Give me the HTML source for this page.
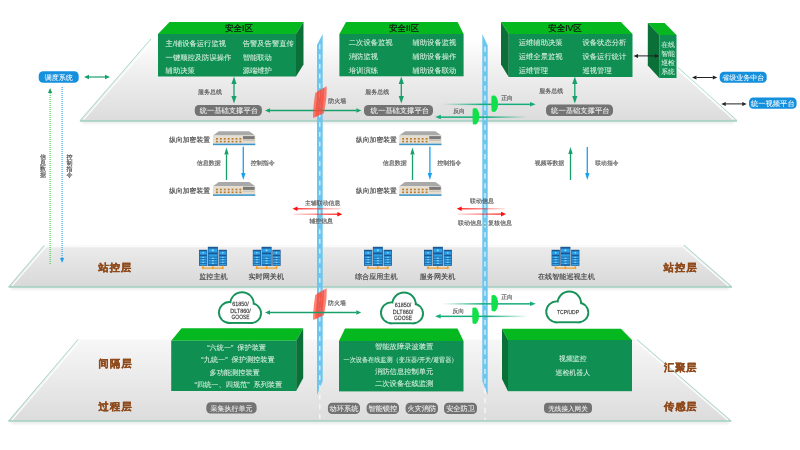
<!DOCTYPE html><html><head><meta charset="utf-8"><style>html,body{margin:0;padding:0;background:#fff;width:800px;height:450px;overflow:hidden}svg{display:block;will-change:transform}text{font-family:"Liberation Sans",sans-serif;text-rendering:geometricPrecision}</style></head><body>
<svg width="800" height="450" viewBox="0 0 800 450">
<defs>
<linearGradient id="pt" x1="0" y1="0" x2="0" y2="1"><stop offset="0" stop-color="#ffffff"/><stop offset="0.35" stop-color="#f1f1f1"/><stop offset="1" stop-color="#dcdcdc"/></linearGradient>
<linearGradient id="ps" x1="0" y1="0" x2="0" y2="1"><stop offset="0" stop-color="#ececec"/><stop offset="1" stop-color="#d8d8d8"/></linearGradient>
<linearGradient id="pb" x1="0" y1="0" x2="0" y2="1"><stop offset="0" stop-color="#f7f7f7"/><stop offset="1" stop-color="#dcdcdc"/></linearGradient>
<linearGradient id="fwd" x1="0" y1="0" x2="1" y2="0"><stop offset="0" stop-color="#16ad7c" stop-opacity="0"/><stop offset="0.45" stop-color="#16ad7c" stop-opacity="1"/><stop offset="1" stop-color="#16ad7c"/></linearGradient>
<linearGradient id="rev" x1="0" y1="0" x2="1" y2="0"><stop offset="0" stop-color="#16ad7c"/><stop offset="0.55" stop-color="#16ad7c" stop-opacity="1"/><stop offset="1" stop-color="#16ad7c" stop-opacity="0"/></linearGradient>
<linearGradient id="redl" x1="0" y1="0" x2="1" y2="0"><stop offset="0" stop-color="#ff1010"/><stop offset="1" stop-color="#ff1010" stop-opacity="0.15"/></linearGradient>
<linearGradient id="redr" x1="0" y1="0" x2="1" y2="0"><stop offset="0" stop-color="#ff1010" stop-opacity="0.15"/><stop offset="1" stop-color="#ff1010"/></linearGradient>
<linearGradient id="tw" x1="0" y1="0" x2="0" y2="1"><stop offset="0" stop-color="#1d5fa0"/><stop offset="0.5" stop-color="#2f8fd6"/><stop offset="1" stop-color="#1f6fb5"/></linearGradient>
<filter id="blur1" x="-20%" y="-100%" width="140%" height="300%"><feGaussianBlur stdDeviation="0.8"/></filter>
<symbol id="srv" viewBox="0 0 29 23" overflow="visible">
 <rect x="0.3" y="3.3" width="8.2" height="16" fill="#1c4f86"/>
 <rect x="19.9" y="3.3" width="8.2" height="16" fill="#1c4f86"/>
 <rect x="9.1" y="0.3" width="10" height="19.2" fill="#1c4f86"/>
 <g fill="#2aa2ea">
  <rect x="0.9" y="4.2" width="7" height="14.5"/><rect x="20.5" y="4.2" width="7" height="14.5"/><rect x="9.7" y="1.3" width="8.8" height="17.6"/>
 </g>
 <g fill="#1d5690">
  <rect x="0.9" y="3.6" width="7" height="1.2"/><rect x="20.5" y="3.6" width="7" height="1.2"/><rect x="9.7" y="0.8" width="8.8" height="1.3"/>
  <rect x="0.9" y="8.2" width="7" height="1.6"/><rect x="20.5" y="8.2" width="7" height="1.6"/><rect x="9.7" y="6" width="8.8" height="1.8"/>
  <rect x="0.9" y="11.6" width="7" height="0.7"/><rect x="0.9" y="14.1" width="7" height="0.7"/><rect x="0.9" y="16.6" width="7" height="0.7"/>
  <rect x="20.5" y="11.6" width="7" height="0.7"/><rect x="20.5" y="14.1" width="7" height="0.7"/><rect x="20.5" y="16.6" width="7" height="0.7"/>
  <rect x="9.7" y="10.2" width="8.8" height="0.7"/><rect x="9.7" y="12.7" width="8.8" height="0.7"/><rect x="9.7" y="15.2" width="8.8" height="0.7"/><rect x="9.7" y="17.6" width="8.8" height="0.7"/>
 </g>
 <g fill="#9fe0ff"><circle cx="4.4" cy="6.3" r="0.8"/><circle cx="24" cy="6.3" r="0.8"/><circle cx="14.1" cy="3.7" r="0.9"/></g>
 <g fill="#c9eeff" opacity="0.8">
  <rect x="3.5" y="10.4" width="1.8" height="0.8"/><rect x="3.5" y="12.9" width="1.8" height="0.8"/><rect x="3.5" y="15.4" width="1.8" height="0.8"/>
  <rect x="23.1" y="10.4" width="1.8" height="0.8"/><rect x="23.1" y="12.9" width="1.8" height="0.8"/><rect x="23.1" y="15.4" width="1.8" height="0.8"/>
  <rect x="13.2" y="11.3" width="1.9" height="0.9"/><rect x="13.2" y="13.8" width="1.9" height="0.9"/><rect x="13.2" y="16.3" width="1.9" height="0.9"/>
 </g>
 <g stroke="#eea030" stroke-width="1.2" fill="none"><path d="M3.6 21.6H24.6M4.2 19.1V21.6M14.1 19.5V21.6M24 19.1V21.6"/></g>
 <g fill="#eea030"><circle cx="4.2" cy="21.6" r="1.1"/><circle cx="14.1" cy="21.6" r="1.1"/><circle cx="24" cy="21.6" r="1.1"/></g>
</symbol>
<symbol id="dev" viewBox="0 0 43 15" overflow="visible">
 <polygon points="5.8,0.2 36.2,0.2 42.3,4.5 0,4.5" fill="#a9a9a9"/>
 <rect x="0" y="4.5" width="42.3" height="8.1" fill="#e4ddd0"/>
 <g fill="#b8792a">
  <rect x="3" y="7" width="1.9" height="1.6"/><rect x="6.9" y="7" width="1.9" height="1.6"/><rect x="10.8" y="7" width="1.9" height="1.6"/><rect x="14.7" y="7" width="1.9" height="1.6"/><rect x="18.6" y="7" width="1.9" height="1.6"/><rect x="22.5" y="7" width="1.9" height="1.6"/><rect x="26.4" y="7" width="1.9" height="1.6"/>
  <rect x="3" y="9.8" width="1.9" height="1.6"/><rect x="6.9" y="9.8" width="1.9" height="1.6"/><rect x="10.8" y="9.8" width="1.9" height="1.6"/><rect x="14.7" y="9.8" width="1.9" height="1.6"/><rect x="18.6" y="9.8" width="1.9" height="1.6"/><rect x="22.5" y="9.8" width="1.9" height="1.6"/><rect x="26.4" y="9.8" width="1.9" height="1.6"/>
 </g>
 <rect x="30" y="5.1" width="11.6" height="3.1" fill="#7a7a7a"/>
 <rect x="30" y="9" width="11.6" height="1" fill="#c9c2b4"/>
 <rect x="0" y="12.6" width="42.3" height="1.6" fill="#3f95c6"/>
</symbol>
<symbol id="cloud" viewBox="0 0 44 32" overflow="visible">
 <g fill="none" stroke="#17935a" stroke-width="3.8"><circle cx="24" cy="12" r="10.8"/><circle cx="11.4" cy="20.5" r="9.5"/><circle cx="33.3" cy="21.2" r="8.8"/><rect x="11.4" y="15" width="21.9" height="15"/></g>
 <g fill="#fff"><circle cx="24" cy="12" r="10.8"/><circle cx="11.4" cy="20.5" r="9.5"/><circle cx="33.3" cy="21.2" r="8.8"/><rect x="11.4" y="15" width="21.9" height="15"/></g>
</symbol>
<symbol id="fw" viewBox="0 0 13 32" overflow="visible">
 <g fill="#ff4a38" opacity="1"><g opacity="0.7"><path d="M2.20,6.38 L5.80,4.28 C6.40,12 4.40,22 3.80,29.90 L0.20,31.51 C-0.20,22 1.60,12 2.20,6.38Z"/></g><g opacity="0.7"><path d="M4.80,4.86 L8.40,2.76 C9.00,12 6.80,22 6.20,28.82 L2.60,30.44 C2.20,22 4.20,12 4.80,4.86Z"/></g><g opacity="0.7"><path d="M7.40,3.34 L11.00,1.24 C11.60,12 9.20,22 8.60,27.75 L5.00,29.36 C4.60,22 6.80,12 7.40,3.34Z"/></g><g opacity="0.7"><path d="M10.00,1.82 L13.60,-0.29 C14.20,12 11.60,22 11.00,26.67 L7.40,28.28 C7.00,22 9.40,12 10.00,1.82Z"/></g></g>
</symbol>
<symbol id="blob" viewBox="0 0 7 17" overflow="visible">
 <path d="M0.4,0.6 L3.6,0.2 C5.9,2 6.9,5 6.9,8.5 C6.9,12 5.9,15 3.6,16.8 L0.5,16.4 C0,11 0,6 0.4,0.6Z" fill="#12e04a"/>
</symbol>
</defs>
<rect x="82" y="120.5" width="652" height="3.2" fill="#000" opacity="0.07" filter="url(#blur1)"/>
<rect x="11" y="286.8" width="718" height="3.2" fill="#000" opacity="0.07" filter="url(#blur1)"/>
<rect x="11" y="421" width="718" height="3.2" fill="#000" opacity="0.07" filter="url(#blur1)"/>
<polygon points="151.00,39.00 641.00,39.00 737.00,121.00 80.00,121.00" fill="url(#pt)" />
<path d="M151,39 L80,120.5 M737,120.5 L678,67.5" fill="none" stroke="#9fd6c4" stroke-width="0.9"/>
<path d="M80,121 L737,121" fill="none" stroke="#9fcfc0" stroke-width="1.6"/>
<polygon points="44.00,245.50 684.00,245.00 732.00,287.00 8.60,287.00" fill="url(#ps)" />
<path d="M44,245.5 L8.6,286.8 M732,286.8 L684,245" fill="none" stroke="#9fd6c4" stroke-width="0.9"/>
<path d="M8.6,287 L732,287" fill="none" stroke="#9fcfc0" stroke-width="1.6"/>
<polygon points="78.00,339.50 637.00,339.50 731.20,420.80 8.50,420.80" fill="url(#pb)" />
<path d="M78,339.5 L8.5,421 M731.2,421 L637,339.5" fill="none" stroke="#9fd6c4" stroke-width="0.9"/>
<path d="M8.5,421 L731.2,421" fill="none" stroke="#9fcfc0" stroke-width="1.5"/>
<path d="M45,246.3 L683,246.3" stroke="#fff" stroke-width="2" opacity="0.8"/>
<g stroke="#fff" stroke-width="1.3" opacity="0.9" fill="none"><path d="M152.6,40.8 L83.5,119.6"/><path d="M677.5,69.5 L733.5,119.6"/><path d="M45.8,246.8 L12,285.9"/><path d="M683,246.8 L728.5,285.9"/><path d="M79.6,341 L12,420.1"/><path d="M635.8,341 L727.8,420.1"/></g>
<polygon points="322.70,34.00 322.70,381.00 317.00,395.00 317.00,45.00" fill="#6cc6ee" />
<line x1="319.85" y1="44.4" x2="319.85" y2="420" stroke="#fff" stroke-width="1" stroke-dasharray="4.8,4.93"/>
<polygon points="482.30,34.00 487.70,45.50 487.70,395.00 482.30,381.00" fill="#6cc6ee" />
<line x1="485.00" y1="46.7" x2="485.00" y2="420" stroke="#fff" stroke-width="1" stroke-dasharray="5.2,4.56"/>
<polygon points="169.50,22.00 303.50,22.00 296.00,34.00 158.00,34.00" fill="#06b820" />
<rect x="158" y="34" width="138" height="42.5" fill="#0f8f52"/>
<polygon points="296.00,34.00 303.50,22.00 303.50,64.50 296.00,76.50" fill="#0a7038" />
<text x="239.00" y="31.23" font-size="8.5" fill="#111" text-anchor="middle" font-weight="normal" stroke="#111" stroke-width="0.2">安全I区</text>
<text x="165.60" y="45.77" font-size="7.3" fill="#dcf2e4" text-anchor="start" font-weight="normal"  stroke="#dcf2e4" stroke-width="0.15" stroke-opacity="0.4">主/辅设备运行监视</text>
<text x="165.60" y="59.77" font-size="7.3" fill="#dcf2e4" text-anchor="start" font-weight="normal"  stroke="#dcf2e4" stroke-width="0.15" stroke-opacity="0.4">一键顺控及防误操作</text>
<text x="165.60" y="72.77" font-size="7.3" fill="#dcf2e4" text-anchor="start" font-weight="normal"  stroke="#dcf2e4" stroke-width="0.15" stroke-opacity="0.4">辅助决策</text>
<text x="242.70" y="45.77" font-size="7.3" fill="#dcf2e4" text-anchor="start" font-weight="normal"  stroke="#dcf2e4" stroke-width="0.15" stroke-opacity="0.4">告警及告警直传</text>
<text x="242.70" y="59.77" font-size="7.3" fill="#dcf2e4" text-anchor="start" font-weight="normal"  stroke="#dcf2e4" stroke-width="0.15" stroke-opacity="0.4">智能联动</text>
<text x="242.70" y="72.77" font-size="7.3" fill="#dcf2e4" text-anchor="start" font-weight="normal"  stroke="#dcf2e4" stroke-width="0.15" stroke-opacity="0.4">源端维护</text>
<polygon points="346.00,22.00 457.60,22.00 463.60,34.00 339.40,34.00" fill="#06b820" />
<rect x="339.4" y="34" width="124.2" height="42.3" fill="#0f8f52"/>
<text x="404.00" y="31.23" font-size="8.5" fill="#111" text-anchor="middle" font-weight="normal" stroke="#111" stroke-width="0.2">安全II区</text>
<text x="348.80" y="44.97" font-size="7.3" fill="#dcf2e4" text-anchor="start" font-weight="normal"  stroke="#dcf2e4" stroke-width="0.15" stroke-opacity="0.4">二次设备监视</text>
<text x="348.80" y="59.07" font-size="7.3" fill="#dcf2e4" text-anchor="start" font-weight="normal"  stroke="#dcf2e4" stroke-width="0.15" stroke-opacity="0.4">消防监视</text>
<text x="348.80" y="73.07" font-size="7.3" fill="#dcf2e4" text-anchor="start" font-weight="normal"  stroke="#dcf2e4" stroke-width="0.15" stroke-opacity="0.4">培训演练</text>
<text x="412.50" y="44.97" font-size="7.3" fill="#dcf2e4" text-anchor="start" font-weight="normal"  stroke="#dcf2e4" stroke-width="0.15" stroke-opacity="0.4">辅助设备监视</text>
<text x="412.50" y="59.07" font-size="7.3" fill="#dcf2e4" text-anchor="start" font-weight="normal"  stroke="#dcf2e4" stroke-width="0.15" stroke-opacity="0.4">辅助设备操作</text>
<text x="412.50" y="73.07" font-size="7.3" fill="#dcf2e4" text-anchor="start" font-weight="normal"  stroke="#dcf2e4" stroke-width="0.15" stroke-opacity="0.4">辅助设备联动</text>
<polygon points="501.00,22.00 621.00,22.00 632.50,34.00 508.75,34.00" fill="#06b820" />
<rect x="508.75" y="34" width="123.75" height="43" fill="#0f8f52"/>
<polygon points="501.00,22.00 508.75,34.00 508.75,77.00 501.00,64.50" fill="#0a7038" />
<text x="565.00" y="31.23" font-size="8.5" fill="#111" text-anchor="middle" font-weight="normal" stroke="#111" stroke-width="0.2">安全IV区</text>
<text x="518.75" y="44.77" font-size="7.3" fill="#dcf2e4" text-anchor="start" font-weight="normal"  stroke="#dcf2e4" stroke-width="0.15" stroke-opacity="0.4">运维辅助决策</text>
<text x="518.75" y="59.02" font-size="7.3" fill="#dcf2e4" text-anchor="start" font-weight="normal"  stroke="#dcf2e4" stroke-width="0.15" stroke-opacity="0.4">运维全景监视</text>
<text x="518.75" y="72.77" font-size="7.3" fill="#dcf2e4" text-anchor="start" font-weight="normal"  stroke="#dcf2e4" stroke-width="0.15" stroke-opacity="0.4">运维管理</text>
<text x="582.50" y="44.77" font-size="7.3" fill="#dcf2e4" text-anchor="start" font-weight="normal"  stroke="#dcf2e4" stroke-width="0.15" stroke-opacity="0.4">设备状态分析</text>
<text x="582.50" y="59.02" font-size="7.3" fill="#dcf2e4" text-anchor="start" font-weight="normal"  stroke="#dcf2e4" stroke-width="0.15" stroke-opacity="0.4">设备运行统计</text>
<text x="582.50" y="72.77" font-size="7.3" fill="#dcf2e4" text-anchor="start" font-weight="normal"  stroke="#dcf2e4" stroke-width="0.15" stroke-opacity="0.4">巡视管理</text>
<polygon points="647.80,23.00 664.60,23.00 676.50,35.00 659.30,35.00" fill="#06b820" />
<rect x="659.3" y="35" width="17.2" height="43" fill="#0f8f52"/>
<polygon points="647.80,23.00 659.30,35.00 659.30,78.00 647.80,65.60" fill="#0a7038" />
<text x="668.00" y="46.58" font-size="6.8" fill="#dcf2e4" text-anchor="middle" font-weight="normal"  stroke="#dcf2e4" stroke-width="0.15" stroke-opacity="0.4">在线</text>
<text x="668.00" y="55.78" font-size="6.8" fill="#dcf2e4" text-anchor="middle" font-weight="normal"  stroke="#dcf2e4" stroke-width="0.15" stroke-opacity="0.4">智能</text>
<text x="668.00" y="64.98" font-size="6.8" fill="#dcf2e4" text-anchor="middle" font-weight="normal"  stroke="#dcf2e4" stroke-width="0.15" stroke-opacity="0.4">巡检</text>
<text x="668.00" y="73.88" font-size="6.8" fill="#dcf2e4" text-anchor="middle" font-weight="normal"  stroke="#dcf2e4" stroke-width="0.15" stroke-opacity="0.4">系统</text>
<text x="198.00" y="94.18" font-size="6" fill="#555" text-anchor="start" font-weight="normal"  stroke="#555" stroke-width="0.25" stroke-opacity="0.6">服务总线</text>
<text x="365.30" y="93.58" font-size="6" fill="#555" text-anchor="start" font-weight="normal"  stroke="#555" stroke-width="0.25" stroke-opacity="0.6">服务总线</text>
<text x="539.20" y="93.48" font-size="6" fill="#555" text-anchor="start" font-weight="normal"  stroke="#555" stroke-width="0.25" stroke-opacity="0.6">服务总线</text>
<line x1="234.00" y1="84.00" x2="234.00" y2="96.00" stroke="#17a06a" stroke-width="1.3"/>
<polygon points="234.00,76.50 231.40,84.00 236.60,84.00" fill="#17a06a" />
<polygon points="234.00,103.50 231.40,96.00 236.60,96.00" fill="#17a06a" />
<line x1="401.30" y1="84.00" x2="401.30" y2="96.00" stroke="#17a06a" stroke-width="1.3"/>
<polygon points="401.30,76.50 398.70,84.00 403.90,84.00" fill="#17a06a" />
<polygon points="401.30,103.50 398.70,96.00 403.90,96.00" fill="#17a06a" />
<line x1="574.80" y1="84.00" x2="574.80" y2="96.00" stroke="#17a06a" stroke-width="1.3"/>
<polygon points="574.80,76.50 572.20,84.00 577.40,84.00" fill="#17a06a" />
<polygon points="574.80,103.50 572.20,96.00 577.40,96.00" fill="#17a06a" />
<rect x="194.75" y="105" width="67.15" height="11.00" rx="4.23" fill="#737373"/>
<text x="228.82" y="113.27" font-size="7.3" fill="#f4f4f4" text-anchor="middle" font-weight="normal"  stroke="#f4f4f4" stroke-width="0.15" stroke-opacity="0.4">统一基础支撑平台</text>
<rect x="364" y="105" width="69.00" height="11.00" rx="4.23" fill="#737373"/>
<text x="399.80" y="113.27" font-size="7.3" fill="#f4f4f4" text-anchor="middle" font-weight="normal"  stroke="#f4f4f4" stroke-width="0.15" stroke-opacity="0.4">统一基础支撑平台</text>
<rect x="546" y="104.5" width="67.00" height="11.50" rx="4.42" fill="#737373"/>
<text x="580.30" y="113.02" font-size="7.3" fill="#f4f4f4" text-anchor="middle" font-weight="normal"  stroke="#f4f4f4" stroke-width="0.15" stroke-opacity="0.4">统一基础支撑平台</text>
<line x1="270.00" y1="110.50" x2="356.30" y2="110.50" stroke="#17a06a" stroke-width="1.3"/>
<polygon points="265.00,110.50 270.00,108.30 270.00,112.70" fill="#17a06a" />
<polygon points="361.30,110.50 356.30,108.30 356.30,112.70" fill="#17a06a" />
<use href="#fw" x="313" y="86.5" width="13" height="32"/>
<text x="328.30" y="102.88" font-size="6" fill="#555" text-anchor="start" font-weight="normal"  stroke="#555" stroke-width="0.25" stroke-opacity="0.6">防火墙</text>
<rect x="442" y="103.6" width="89" height="1.5" fill="url(#fwd)"/>
<polygon points="535.70,104.20 530.00,101.90 530.00,106.50" fill="#16ad7c" />
<rect x="440" y="116.4" width="88" height="1.5" fill="url(#rev)"/>
<polygon points="435.20,117.00 440.90,114.70 440.90,119.30" fill="#16ad7c" />
<use href="#blob" x="491.2" y="95.2" width="7" height="17"/>
<use href="#blob" x="472.4" y="107.8" width="7" height="17"/>
<text x="501.20" y="99.90" font-size="5.8" fill="#555" text-anchor="start" font-weight="normal"  stroke="#555" stroke-width="0.25" stroke-opacity="0.6">正向</text>
<text x="453.20" y="113.40" font-size="5.8" fill="#555" text-anchor="start" font-weight="normal"  stroke="#555" stroke-width="0.25" stroke-opacity="0.6">反向</text>
<rect x="38.7" y="71.3" width="40.00" height="11.50" rx="4.42" fill="#1590dd"/>
<text x="58.70" y="79.71" font-size="7" fill="#fff" text-anchor="middle" font-weight="normal"  stroke="#fff" stroke-width="0.15" stroke-opacity="0.4">调度系统</text>
<line x1="89.00" y1="77.00" x2="105.00" y2="77.00" stroke="#17a06a" stroke-width="1.2"/>
<polygon points="84.00,77.00 89.00,74.80 89.00,79.20" fill="#17a06a" />
<polygon points="110.00,77.00 105.00,74.80 105.00,79.20" fill="#17a06a" />
<line x1="50.1" y1="93" x2="50.1" y2="264" stroke="#2fbf3f" stroke-width="1" stroke-dasharray="1,1"/>
<polygon points="50.10,88.00 48.00,93.00 52.20,93.00" fill="#17a06a" />
<line x1="62.1" y1="87" x2="62.1" y2="258" stroke="#2a9ee8" stroke-width="1.1" stroke-dasharray="1,1"/>
<polygon points="62.10,263.00 60.00,258.00 64.20,258.00" fill="#2a9ee8" />
<text x="43.10" y="159.08" font-size="6" fill="#444" text-anchor="middle" font-weight="normal"  stroke="#444" stroke-width="0.25" stroke-opacity="0.6">信</text>
<text x="43.10" y="165.08" font-size="6" fill="#444" text-anchor="middle" font-weight="normal"  stroke="#444" stroke-width="0.25" stroke-opacity="0.6">息</text>
<text x="43.10" y="171.08" font-size="6" fill="#444" text-anchor="middle" font-weight="normal"  stroke="#444" stroke-width="0.25" stroke-opacity="0.6">数</text>
<text x="43.10" y="177.08" font-size="6" fill="#444" text-anchor="middle" font-weight="normal"  stroke="#444" stroke-width="0.25" stroke-opacity="0.6">据</text>
<text x="69.50" y="159.08" font-size="6" fill="#444" text-anchor="middle" font-weight="normal"  stroke="#444" stroke-width="0.25" stroke-opacity="0.6">控</text>
<text x="69.50" y="165.08" font-size="6" fill="#444" text-anchor="middle" font-weight="normal"  stroke="#444" stroke-width="0.25" stroke-opacity="0.6">制</text>
<text x="69.50" y="171.08" font-size="6" fill="#444" text-anchor="middle" font-weight="normal"  stroke="#444" stroke-width="0.25" stroke-opacity="0.6">指</text>
<text x="69.50" y="177.08" font-size="6" fill="#444" text-anchor="middle" font-weight="normal"  stroke="#444" stroke-width="0.25" stroke-opacity="0.6">令</text>
<rect x="719.7" y="71.8" width="47.00" height="11.00" rx="4.23" fill="#1590dd"/>
<text x="743.20" y="79.96" font-size="7" fill="#fff" text-anchor="middle" font-weight="normal"  stroke="#fff" stroke-width="0.15" stroke-opacity="0.4">省级业务中台</text>
<line x1="696.50" y1="77.50" x2="712.80" y2="77.50" stroke="#222" stroke-width="1"/>
<polygon points="692.00,77.50 696.50,75.50 696.50,79.50" fill="#222" />
<polygon points="717.30,77.50 712.80,75.50 712.80,79.50" fill="#222" />
<rect x="749" y="97.6" width="47.60" height="11.10" rx="4.27" fill="#1590dd"/>
<text x="772.80" y="105.92" font-size="7.3" fill="#fff" text-anchor="middle" font-weight="normal"  stroke="#fff" stroke-width="0.15" stroke-opacity="0.4">统一视频平台</text>
<line x1="725.80" y1="103.90" x2="742.20" y2="103.90" stroke="#222" stroke-width="1"/>
<polygon points="721.30,103.90 725.80,101.90 725.80,105.90" fill="#222" />
<polygon points="746.70,103.90 742.20,101.90 742.20,105.90" fill="#222" />
<line x1="638.00" y1="55.90" x2="654.80" y2="55.90" stroke="#222" stroke-width="1"/>
<polygon points="633.50,55.90 638.00,53.90 638.00,57.90" fill="#222" />
<polygon points="659.30,55.90 654.80,53.90 654.80,57.90" fill="#222" />
<use href="#dev" x="213" y="131" width="43" height="15"/>
<use href="#dev" x="213" y="181.7" width="43" height="15"/>
<text x="169.20" y="142.08" font-size="6.8" fill="#444" text-anchor="start" font-weight="normal"  stroke="#444" stroke-width="0.25" stroke-opacity="0.6">纵向加密装置</text>
<text x="169.20" y="193.28" font-size="6.8" fill="#444" text-anchor="start" font-weight="normal"  stroke="#444" stroke-width="0.25" stroke-opacity="0.6">纵向加密装置</text>
<line x1="226.50" y1="154.50" x2="226.50" y2="180.00" stroke="#17a06a" stroke-width="1.3"/>
<polygon points="226.50,147.50 224.30,154.50 228.70,154.50" fill="#17a06a" />
<line x1="243.30" y1="146.70" x2="243.30" y2="173.00" stroke="#18a0f2" stroke-width="1.3"/>
<polygon points="243.30,180.00 241.10,173.00 245.50,173.00" fill="#18a0f2" />
<text x="196.70" y="164.98" font-size="6" fill="#555" text-anchor="start" font-weight="normal"  stroke="#555" stroke-width="0.25" stroke-opacity="0.6">信息数据</text>
<text x="250.80" y="164.98" font-size="6" fill="#555" text-anchor="start" font-weight="normal"  stroke="#555" stroke-width="0.25" stroke-opacity="0.6">控制指令</text>
<use href="#dev" x="399.2" y="131" width="43" height="15"/>
<use href="#dev" x="399.2" y="181.7" width="43" height="15"/>
<text x="356.00" y="142.08" font-size="6.8" fill="#444" text-anchor="start" font-weight="normal"  stroke="#444" stroke-width="0.25" stroke-opacity="0.6">纵向加密装置</text>
<text x="356.00" y="193.28" font-size="6.8" fill="#444" text-anchor="start" font-weight="normal"  stroke="#444" stroke-width="0.25" stroke-opacity="0.6">纵向加密装置</text>
<line x1="412.50" y1="154.50" x2="412.50" y2="180.00" stroke="#17a06a" stroke-width="1.3"/>
<polygon points="412.50,147.50 410.30,154.50 414.70,154.50" fill="#17a06a" />
<line x1="429.90" y1="146.70" x2="429.90" y2="173.00" stroke="#18a0f2" stroke-width="1.3"/>
<polygon points="429.90,180.00 427.70,173.00 432.10,173.00" fill="#18a0f2" />
<text x="382.70" y="164.98" font-size="6" fill="#555" text-anchor="start" font-weight="normal"  stroke="#555" stroke-width="0.25" stroke-opacity="0.6">信息数据</text>
<text x="437.30" y="164.98" font-size="6" fill="#555" text-anchor="start" font-weight="normal"  stroke="#555" stroke-width="0.25" stroke-opacity="0.6">控制指令</text>
<text x="534.80" y="165.44" font-size="5.9" fill="#555" text-anchor="start" font-weight="normal"  stroke="#555" stroke-width="0.25" stroke-opacity="0.6">视频等数据</text>
<line x1="570.50" y1="154.00" x2="570.50" y2="180.00" stroke="#17a06a" stroke-width="1.3"/>
<polygon points="570.50,147.00 568.30,154.00 572.70,154.00" fill="#17a06a" />
<line x1="587.30" y1="147.00" x2="587.30" y2="173.00" stroke="#18a0f2" stroke-width="1.3"/>
<polygon points="587.30,180.00 585.10,173.00 589.50,173.00" fill="#18a0f2" />
<text x="595.30" y="165.40" font-size="5.8" fill="#555" text-anchor="start" font-weight="normal"  stroke="#555" stroke-width="0.25" stroke-opacity="0.6">联动指令</text>
<text x="305.00" y="204.64" font-size="5.9" fill="#555" text-anchor="start" font-weight="normal"  stroke="#555" stroke-width="0.25" stroke-opacity="0.6">主辅联动信息</text>
<rect x="296.50" y="208.20" width="44.50" height="1.2" fill="url(#redl)"/>
<polygon points="292.50,208.80 297.50,206.50 297.50,211.10" fill="#ff1010" />
<rect x="293.50" y="213.60" width="44.50" height="1.2" fill="url(#redr)"/>
<polygon points="342.30,214.20 337.30,211.90 337.30,216.50" fill="#ff1010" />
<text x="309.40" y="222.84" font-size="5.9" fill="#555" text-anchor="start" font-weight="normal"  stroke="#555" stroke-width="0.25" stroke-opacity="0.6">辅控信息</text>
<text x="470.00" y="203.08" font-size="6" fill="#555" text-anchor="start" font-weight="normal"  stroke="#555" stroke-width="0.25" stroke-opacity="0.6">联动信息</text>
<rect x="460.70" y="208.20" width="44.00" height="1.2" fill="url(#redl)"/>
<polygon points="456.70,208.80 461.70,206.50 461.70,211.10" fill="#ff1010" />
<rect x="457.70" y="213.50" width="44.00" height="1.2" fill="url(#redr)"/>
<polygon points="506.00,214.10 501.00,211.80 501.00,216.40" fill="#ff1010" />
<text x="458.00" y="224.98" font-size="6" fill="#555" text-anchor="start" font-weight="normal"  stroke="#555" stroke-width="0.25" stroke-opacity="0.6">联动信息，复核信息</text>
<text x="98.50" y="270.68" font-size="10.2" fill="#8f4a1c" text-anchor="start" font-weight="900" textLength="32.8" lengthAdjust="spacing" stroke="#8f4a1c" stroke-width="0.35">站控层</text>
<text x="663.80" y="271.28" font-size="10.2" fill="#8f4a1c" text-anchor="start" font-weight="900" textLength="32.8" lengthAdjust="spacing" stroke="#8f4a1c" stroke-width="0.35">站控层</text>
<use href="#srv" x="198.75" y="246.5" width="29" height="23"/>
<text x="213.40" y="278.90" font-size="7.1" fill="#444" text-anchor="middle" font-weight="normal"  stroke="#444" stroke-width="0.25" stroke-opacity="0.6">监控主机</text>
<use href="#srv" x="252.5" y="246.5" width="29" height="23"/>
<text x="266.25" y="278.90" font-size="7.1" fill="#444" text-anchor="middle" font-weight="normal"  stroke="#444" stroke-width="0.25" stroke-opacity="0.6">实时网关机</text>
<use href="#srv" x="363.75" y="246.5" width="29" height="23"/>
<text x="376.25" y="278.90" font-size="7.1" fill="#444" text-anchor="middle" font-weight="normal"  stroke="#444" stroke-width="0.25" stroke-opacity="0.6">综合应用主机</text>
<use href="#srv" x="423.75" y="246.5" width="29" height="23"/>
<text x="437.50" y="278.90" font-size="7.1" fill="#444" text-anchor="middle" font-weight="normal"  stroke="#444" stroke-width="0.25" stroke-opacity="0.6">服务网关机</text>
<use href="#srv" x="551.3" y="246.5" width="29" height="23"/>
<text x="566.40" y="278.90" font-size="7.1" fill="#444" text-anchor="middle" font-weight="normal"  stroke="#444" stroke-width="0.25" stroke-opacity="0.6">在线智能巡视主机</text>
<use href="#fw" x="313" y="288.5" width="13" height="32"/>
<text x="328.00" y="304.78" font-size="6" fill="#555" text-anchor="start" font-weight="normal"  stroke="#555" stroke-width="0.25" stroke-opacity="0.6">防火墙</text>
<use href="#cloud" x="218" y="292" width="44" height="32"/>
<use href="#cloud" x="380" y="292.3" width="44" height="32"/>
<use href="#cloud" x="545.3" y="291.3" width="44" height="32"/>
<text x="240.50" y="306.36" font-size="6.2" fill="#333" text-anchor="middle" font-weight="normal" textLength="16.5" lengthAdjust="spacingAndGlyphs"  stroke="#333" stroke-width="0.25" stroke-opacity="0.6">61850/</text>
<text x="240.50" y="312.96" font-size="6.2" fill="#333" text-anchor="middle" font-weight="normal" textLength="20.5" lengthAdjust="spacingAndGlyphs"  stroke="#333" stroke-width="0.25" stroke-opacity="0.6">DLT860/</text>
<text x="240.50" y="319.36" font-size="6.2" fill="#333" text-anchor="middle" font-weight="normal" textLength="18" lengthAdjust="spacingAndGlyphs"  stroke="#333" stroke-width="0.25" stroke-opacity="0.6">GOOSE</text>
<text x="403.00" y="307.06" font-size="6.2" fill="#333" text-anchor="middle" font-weight="normal" textLength="16.5" lengthAdjust="spacingAndGlyphs"  stroke="#333" stroke-width="0.25" stroke-opacity="0.6">61850/</text>
<text x="403.00" y="313.66" font-size="6.2" fill="#333" text-anchor="middle" font-weight="normal" textLength="20.5" lengthAdjust="spacingAndGlyphs"  stroke="#333" stroke-width="0.25" stroke-opacity="0.6">DLT860/</text>
<text x="403.00" y="320.06" font-size="6.2" fill="#333" text-anchor="middle" font-weight="normal" textLength="18" lengthAdjust="spacingAndGlyphs"  stroke="#333" stroke-width="0.25" stroke-opacity="0.6">GOOSE</text>
<text x="568.00" y="314.20" font-size="5.8" fill="#333" text-anchor="middle" font-weight="normal" textLength="22" lengthAdjust="spacingAndGlyphs"  stroke="#333" stroke-width="0.25" stroke-opacity="0.6">TCP/UDP</text>
<line x1="270.00" y1="312.50" x2="356.25" y2="312.50" stroke="#17a06a" stroke-width="1.3"/>
<polygon points="265.00,312.50 270.00,310.30 270.00,314.70" fill="#17a06a" />
<polygon points="361.25,312.50 356.25,310.30 356.25,314.70" fill="#17a06a" />
<rect x="442.5" y="303.1" width="88" height="1.5" fill="url(#fwd)"/>
<polygon points="535.75,303.75 530.00,301.45 530.00,306.05" fill="#16ad7c" />
<rect x="440" y="315.6" width="88" height="1.5" fill="url(#rev)"/>
<polygon points="435.00,316.25 440.70,313.95 440.70,318.55" fill="#16ad7c" />
<use href="#blob" x="491.2" y="294.7" width="7" height="17"/>
<use href="#blob" x="472.1" y="307.2" width="7" height="17"/>
<text x="501.25" y="299.20" font-size="5.8" fill="#555" text-anchor="start" font-weight="normal"  stroke="#555" stroke-width="0.25" stroke-opacity="0.6">正向</text>
<text x="452.50" y="312.70" font-size="5.8" fill="#555" text-anchor="start" font-weight="normal"  stroke="#555" stroke-width="0.25" stroke-opacity="0.6">反向</text>
<text x="98.50" y="366.68" font-size="10.2" fill="#8f4a1c" text-anchor="start" font-weight="900" textLength="33.3" lengthAdjust="spacing" stroke="#8f4a1c" stroke-width="0.35">间隔层</text>
<text x="98.50" y="409.98" font-size="10.2" fill="#8f4a1c" text-anchor="start" font-weight="900" textLength="33.3" lengthAdjust="spacing" stroke="#8f4a1c" stroke-width="0.35">过程层</text>
<text x="664.00" y="370.88" font-size="10.2" fill="#8f4a1c" text-anchor="start" font-weight="900" textLength="32.5" lengthAdjust="spacing" stroke="#8f4a1c" stroke-width="0.35">汇聚层</text>
<text x="664.00" y="409.98" font-size="10.2" fill="#8f4a1c" text-anchor="start" font-weight="900" textLength="32.5" lengthAdjust="spacing" stroke="#8f4a1c" stroke-width="0.35">传感层</text>
<polygon points="181.50,328.30 303.20,328.30 296.20,340.80 171.20,340.80" fill="#06b820" />
<rect x="171.2" y="340.8" width="125" height="50.2" fill="#0f8f52"/>
<polygon points="296.20,340.80 303.20,328.30 303.20,378.00 296.20,391.00" fill="#0a7038" />
<text x="236.60" y="349.94" font-size="7.2" fill="#dcf2e4" text-anchor="middle" font-weight="normal"  stroke="#dcf2e4" stroke-width="0.15" stroke-opacity="0.4">“六统一”<tspan dx="3.8">保</tspan>护装置</text>
<text x="238.00" y="362.34" font-size="7.2" fill="#dcf2e4" text-anchor="middle" font-weight="normal"  stroke="#dcf2e4" stroke-width="0.15" stroke-opacity="0.4">“九统一”<tspan dx="3.8">保</tspan>护测控装置</text>
<text x="234.60" y="375.14" font-size="7.2" fill="#dcf2e4" text-anchor="middle" font-weight="normal"  stroke="#dcf2e4" stroke-width="0.15" stroke-opacity="0.4">多功能测控装置</text>
<text x="238.40" y="387.14" font-size="7.2" fill="#dcf2e4" text-anchor="middle" font-weight="normal"  stroke="#dcf2e4" stroke-width="0.15" stroke-opacity="0.4">“四统一、四规范”<tspan dx="3.8">系</tspan>列装置</text>
<rect x="206.3" y="402.3" width="50.30" height="11.30" rx="4.35" fill="#737373"/>
<text x="231.45" y="410.61" font-size="7" fill="#f4f4f4" text-anchor="middle" font-weight="normal"  stroke="#f4f4f4" stroke-width="0.15" stroke-opacity="0.4">采集执行单元</text>
<polygon points="345.00,328.40 457.50,328.40 463.50,341.00 339.00,341.00" fill="#06b820" />
<rect x="339" y="341" width="124.5" height="50.4" fill="#0f8f52"/>
<text x="404.20" y="349.17" font-size="7.3" fill="#dcf2e4" text-anchor="middle" font-weight="normal"  stroke="#dcf2e4" stroke-width="0.15" stroke-opacity="0.4">智能故障录波装置</text>
<text x="404.20" y="374.37" font-size="7.3" fill="#dcf2e4" text-anchor="middle" font-weight="normal"  stroke="#dcf2e4" stroke-width="0.15" stroke-opacity="0.4">消防信息控制单元</text>
<text x="404.20" y="386.37" font-size="7.3" fill="#dcf2e4" text-anchor="middle" font-weight="normal"  stroke="#dcf2e4" stroke-width="0.15" stroke-opacity="0.4">二次设备在线监测</text>
<text x="400.50" y="361.51" font-size="6.6" fill="#dcf2e4" text-anchor="middle" font-weight="normal" textLength="114" lengthAdjust="spacingAndGlyphs"  stroke="#dcf2e4" stroke-width="0.15" stroke-opacity="0.4">一次设备在线监测（变压器/开关/避雷器）</text>
<rect x="327.9" y="402.8" width="32.10" height="11.20" rx="4.31" fill="#737373"/>
<text x="343.95" y="411.14" font-size="7.2" fill="#f4f4f4" text-anchor="middle" font-weight="normal"  stroke="#f4f4f4" stroke-width="0.15" stroke-opacity="0.4">动环系统</text>
<rect x="366.6" y="402.8" width="32.40" height="11.20" rx="4.31" fill="#737373"/>
<text x="382.80" y="411.14" font-size="7.2" fill="#f4f4f4" text-anchor="middle" font-weight="normal"  stroke="#f4f4f4" stroke-width="0.15" stroke-opacity="0.4">智能锁控</text>
<rect x="405.6" y="402.8" width="32.40" height="11.20" rx="4.31" fill="#737373"/>
<text x="421.80" y="411.14" font-size="7.2" fill="#f4f4f4" text-anchor="middle" font-weight="normal"  stroke="#f4f4f4" stroke-width="0.15" stroke-opacity="0.4">火灾消防</text>
<rect x="444" y="402.8" width="33.00" height="11.20" rx="4.31" fill="#737373"/>
<text x="460.50" y="411.14" font-size="7.2" fill="#f4f4f4" text-anchor="middle" font-weight="normal"  stroke="#f4f4f4" stroke-width="0.15" stroke-opacity="0.4">安全防卫</text>
<polygon points="502.00,328.80 621.00,328.80 632.00,340.00 508.00,340.00" fill="#06b820" />
<rect x="508" y="340" width="124" height="51.2" fill="#0f8f52"/>
<polygon points="502.00,328.80 508.00,340.00 508.00,391.20 502.00,379.00" fill="#0a7038" />
<text x="572.80" y="360.62" font-size="6.9" fill="#dcf2e4" text-anchor="middle" font-weight="normal"  stroke="#dcf2e4" stroke-width="0.15" stroke-opacity="0.4">视频监控</text>
<text x="572.80" y="374.62" font-size="6.9" fill="#dcf2e4" text-anchor="middle" font-weight="normal"  stroke="#dcf2e4" stroke-width="0.15" stroke-opacity="0.4">巡检机器人</text>
<rect x="544" y="402.8" width="48.00" height="10.40" rx="4.00" fill="#737373"/>
<text x="568.00" y="410.51" font-size="6.6" fill="#f4f4f4" text-anchor="middle" font-weight="normal"  stroke="#f4f4f4" stroke-width="0.15" stroke-opacity="0.4">无线接入网关</text>
</svg></body></html>
